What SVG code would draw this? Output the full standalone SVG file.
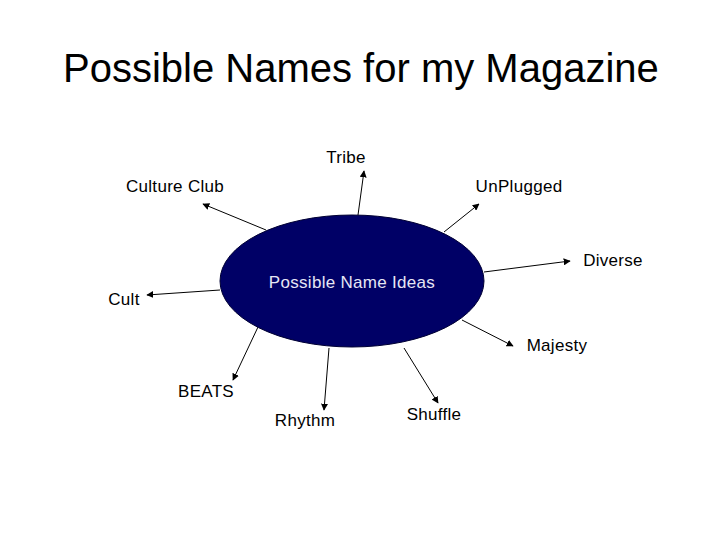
<svg xmlns="http://www.w3.org/2000/svg" width="728" height="546" viewBox="0 0 728 546">
<style>
.lbl{font-family:"Liberation Sans",Arial,sans-serif;font-size:17px;letter-spacing:0.3px;fill:#000}
.title{font-family:"Liberation Sans",Arial,sans-serif;font-size:40px;fill:#000}
.con{stroke:#000;stroke-width:1;fill:none;marker-end:url(#arr)}
</style>
<defs>
<marker id="arr" viewBox="0 0 10 10" refX="9" refY="5" markerWidth="7" markerHeight="7" markerUnits="userSpaceOnUse" orient="auto">
<path d="M0,0 L10,5 L0,10 z" fill="#000"/>
</marker>
</defs>
<rect width="728" height="546" fill="#fff"/>
<text class="title" x="63" y="82">Possible Names for my Magazine</text>
<g id="connectors">
<line class="con" x1="358" y1="215" x2="364" y2="171"/>
<line class="con" x1="266" y1="230" x2="203" y2="204"/>
<line class="con" x1="444" y1="232" x2="479" y2="204"/>
<line class="con" x1="484" y1="272" x2="570" y2="261"/>
<line class="con" x1="462" y1="320" x2="513" y2="346"/>
<line class="con" x1="220" y1="290" x2="147" y2="295"/>
<line class="con" x1="258" y1="327" x2="233" y2="380"/>
<line class="con" x1="329" y1="348" x2="324" y2="410"/>
<line class="con" x1="404" y1="348" x2="438" y2="403"/>
</g>
<g id="center">
<ellipse cx="352" cy="281" rx="132" ry="66" fill="#000066" stroke="#000033" stroke-width="1"/>
<text class="lbl" x="352" y="288" text-anchor="middle" style="fill:#e6e6f5">Possible Name Ideas</text>
</g>
<g id="tribe"><text class="lbl" x="346" y="163" text-anchor="middle">Tribe</text></g>
<g id="culture-club"><text class="lbl" x="175" y="192" text-anchor="middle">Culture Club</text></g>
<g id="unplugged"><text class="lbl" x="519" y="192" text-anchor="middle">UnPlugged</text></g>
<g id="diverse"><text class="lbl" x="613" y="266" text-anchor="middle">Diverse</text></g>
<g id="majesty"><text class="lbl" x="557" y="351" text-anchor="middle">Majesty</text></g>
<g id="cult"><text class="lbl" x="124" y="305" text-anchor="middle">Cult</text></g>
<g id="beats"><text class="lbl" x="206" y="397" text-anchor="middle">BEATS</text></g>
<g id="rhythm"><text class="lbl" x="305" y="426" text-anchor="middle">Rhythm</text></g>
<g id="shuffle"><text class="lbl" x="434" y="420" text-anchor="middle">Shuffle</text></g>
</svg>
